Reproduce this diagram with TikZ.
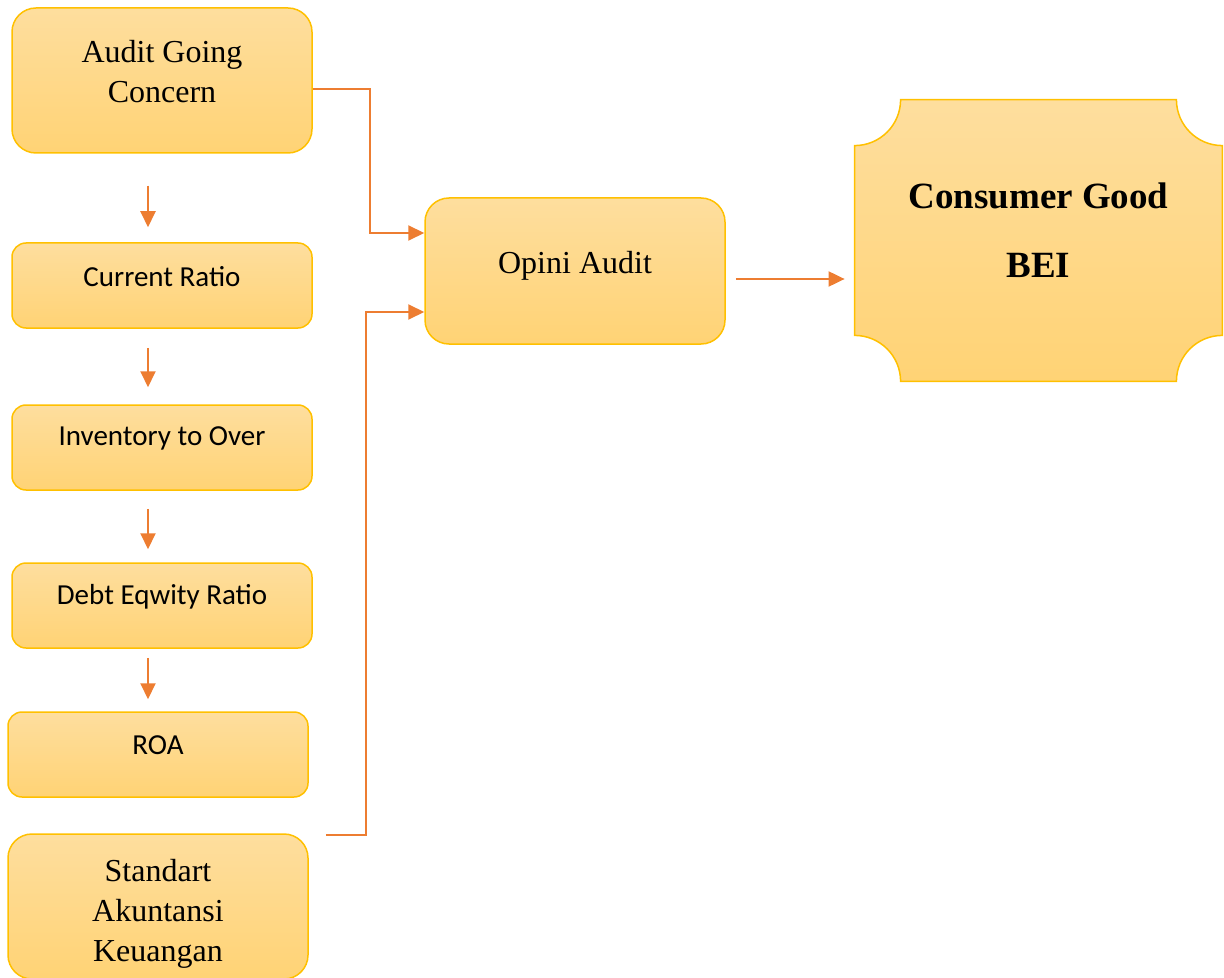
\documentclass[tikz,border=0pt]{standalone}
\usepackage{fontspec}
\setmainfont{Liberation Serif}
\newfontfamily\calibri{Carlito}
\usepackage{tikz}
\usetikzlibrary{arrows.meta}

\definecolor{boxtop}{RGB}{254,222,158}
\definecolor{boxbot}{RGB}{255,211,117}
\definecolor{boxline}{RGB}{255,192,0}
\definecolor{arrowc}{RGB}{237,125,49}

\begin{document}
\begin{tikzpicture}[x=0.5pt, y=-0.5pt,
          every node/.style = {inner sep=0pt},
          box/.style = {shape=rectangle, draw=boxline, line width=0.75pt,
            top color=boxtop, bottom color=boxbot, minimum width=150pt},
          tallbox/.style = {box, minimum height=72.5pt, rounded corners=12pt},
          flatbox/.style = {box, minimum height=42.5pt, rounded corners=7pt},
          serif/.style = {align=center, font=\fontsize{16}{20}\selectfont},
          sans/.style = {font=\calibri\fontsize{14.5}{17}\selectfont},
          bold/.style = {align=center, font=\bfseries\fontsize{18.5}{34.5}\selectfont},
          arr/.style = {draw=arrowc, line width=1pt,
            -{Triangle[length=8pt, width=7.5pt]}}]
    \useasboundingbox (0,0) rectangle (1224,978);

    % left column
    \node[tallbox] (agc) at (162,80.5) {};
    \node[serif] (agc-t) at ([yshift=4.5pt]agc.center) {Audit Going\\Concern};
    \node[flatbox] (cr) at (162,285.5) {};
    \node[sans] (cr-t) at ([yshift=4.5pt]cr.center) {Current Ratio};
    \node[flatbox] (ito) at (162,447.5) {};
    \node[sans] (ito-t) at ([yshift=4.5pt]ito.center) {Inventory to Over};
    \node[flatbox] (der) at (162,605.5) {};
    \node[sans] (der-t) at ([yshift=4.5pt]der.center) {Debt Eqwity Ratio};
    \node[flatbox] (roa) at (158,754.5) {};
    \node[sans] (roa-t) at ([yshift=4.5pt]roa.center) {ROA};
    \node[tallbox] (sak) at (158,906.5) {};
    \node[serif] (sak-t) at ([yshift=-3.5pt]sak.center) {Standart\\Akuntansi\\Keuangan};

    % middle and right
    \node[tallbox, minimum height=73pt] (opini) at (575,271) {};
    \node[serif] (opini-t) at ([yshift=2.5pt]opini.center) {Opini Audit};
    \node[minimum width=183.5pt, minimum height=140.5pt] (bei) at (1038.5,240.5) {};
    \path[draw=boxline, line width=0.75pt, top color=boxtop, bottom color=boxbot]
      ([yshift=-23pt]bei.north west) arc[start angle=270, end angle=360, radius=23pt]
      -- ([xshift=-23pt]bei.north east) arc[start angle=180, end angle=270, radius=23pt]
      -- ([yshift=23pt]bei.south east) arc[start angle=90, end angle=180, radius=23pt]
      -- ([xshift=23pt]bei.south west) arc[start angle=0, end angle=90, radius=23pt]
      -- cycle;
    \node[bold] (bei-t) at ([yshift=5.25pt]bei.center) {Consumer Good\\BEI};

    % connectors
    \draw[arr] ([xshift=-7pt, yshift=-16pt]agc.south) -- ([xshift=-7pt, yshift=7.5pt]cr.north);
    \draw[arr] ([xshift=-7pt, yshift=-9.5pt]cr.south) -- ([xshift=-7pt, yshift=8.5pt]ito.north);
    \draw[arr] ([xshift=-7pt, yshift=-9pt]ito.south) -- ([xshift=-7pt, yshift=6.5pt]der.north);
    \draw[arr] ([xshift=-7pt, yshift=-4.5pt]der.south) -- ([xshift=-5pt, yshift=6pt]roa.north);
    \draw[arr] ([yshift=-4.25pt]agc.east) -- ++(28.5pt,0) |- ([yshift=19pt]opini.west);
    \draw[arr] ([xshift=8.5pt, yshift=35.75pt]sak.east) -- ++(20pt,0) |- ([yshift=-20.5pt]opini.west);
    \draw[arr] ([xshift=5pt, yshift=-4pt]opini.east) -- ([xshift=-5pt, yshift=-19.25pt]bei.west);
\end{tikzpicture}
\end{document}
